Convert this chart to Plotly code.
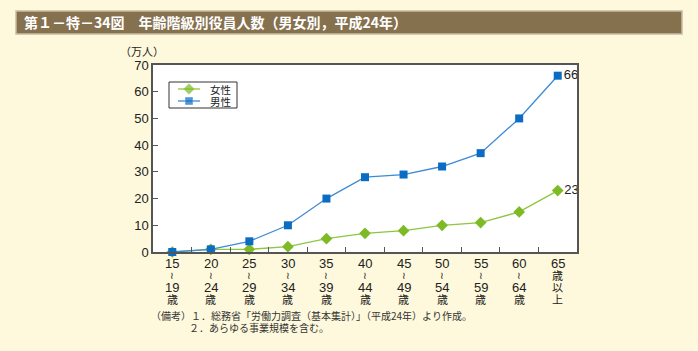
import plotly.graph_objects as go

age_start = ["15", "20", "25", "30", "35", "40", "45", "50", "55", "60", "65"]
age_end = ["19", "24", "29", "34", "39", "44", "49", "54", "59", "64", None]
female = [0, 1, 1, 2, 5, 7, 8, 10, 11, 15, 23]
male = [0, 1, 4, 10, 20, 28, 29, 32, 37, 50, 66]
series_names = ["女性", "男性"]

cats = [f"{s}～{e}歳" if e else f"{s}歳以上" for s, e in zip(age_start, age_end)]

W, H = 698, 351
L, R, T, B = 153, 577, 65, 252
ml, mr, mt, mb = L, W - R, T, H - B
pw, ph = R - L, B - T

def px(x):
    return (x - L) / pw

def py(y):
    return (B - y) / ph

BG = "#FEF9DC"
GREEN_L, GREEN_M = "#8DC63F", "#7DBA26"
BLUE_L, BLUE_M = "#3D8AD6", "#0A6CC2"
NUMFONT = "Liberation Sans, Arial"
JPFONT = "Noto Sans CJK JP"

fig = go.Figure()

def last_labels(vals):
    return [""] * (len(vals) - 1) + [str(vals[-1])]

fig.add_trace(go.Scatter(
    x=cats, y=female, name=series_names[0], mode="lines+markers+text",
    line=dict(color=GREEN_L, width=1.3),
    marker=dict(symbol="diamond", size=9, color=GREEN_M),
    text=last_labels(female), textposition="middle right",
    textfont=dict(size=13, color="#222222", family=NUMFONT),
    cliponaxis=False, showlegend=False,
))
fig.add_trace(go.Scatter(
    x=cats, y=male, name=series_names[1], mode="lines+markers+text",
    line=dict(color=BLUE_L, width=1.3),
    marker=dict(symbol="square", size=8, color=BLUE_M),
    text=last_labels(male), textposition="middle right",
    textfont=dict(size=13, color="#222222", family=NUMFONT),
    cliponaxis=False, showlegend=False,
))

# manual compact legend (pixel-mapped overlay axis)
leg_y = [89, 101]
leg_styles = [("diamond", 8, GREEN_L, GREEN_M), ("square", 7, BLUE_L, BLUE_M)]
for (sym, sz, lc, mc), yy in zip(leg_styles, leg_y):
    fig.add_trace(go.Scatter(
        x=[178, 189, 200], y=[yy, yy, yy], mode="lines+markers",
        line=dict(color=lc, width=1.3),
        marker=dict(symbol=sym, size=[0, sz, 0], color=mc),
        xaxis="x2", yaxis="y2", showlegend=False, hoverinfo="skip",
    ))

annotations = [
    dict(text="<b>第１－特－34図　年齢階級別役員人数（男女別，平成24年）</b>",
         xref="paper", yref="paper", x=px(22), y=py(22.5),
         xanchor="left", yanchor="middle", showarrow=False,
         font=dict(size=14, color="#FFFFFF", family=JPFONT)),
    dict(text="（万人）", xref="paper", yref="paper", x=px(142), y=py(51),
         xanchor="center", yanchor="middle", showarrow=False,
         font=dict(size=11, color="#222222", family=JPFONT)),
    dict(text="（備考）１．総務省「労働力調査（基本集計）」（平成24年）より作成。",
         xref="paper", yref="paper", x=px(149), y=py(315),
         xanchor="left", yanchor="middle", showarrow=False,
         font=dict(size=10, color="#333333", family=JPFONT)),
    dict(text="２．あらゆる事業規模を含む。",
         xref="paper", yref="paper", x=px(187), y=py(327),
         xanchor="left", yanchor="middle", showarrow=False,
         font=dict(size=10, color="#333333", family=JPFONT)),
]
for name, yy in zip(series_names, leg_y):
    annotations.append(dict(text=name, xref="paper", yref="paper", x=px(208), y=py(yy),
                            xanchor="left", yanchor="middle", showarrow=False,
                            font=dict(size=10.5, color="#222222", family=JPFONT)))

# stacked category labels
line_y = [263, 275, 287, 299]
for c, s, e in zip(cats, age_start, age_end):
    if e:
        parts = [(s, 13, NUMFONT), ("≀", 10, "DejaVu Sans"), (e, 13, NUMFONT), ("歳", 11, JPFONT)]
    else:
        parts = [(s, 13, NUMFONT), ("歳", 11, JPFONT), ("以", 11, JPFONT), ("上", 11, JPFONT)]
    for (t, sz, fam), yy in zip(parts, line_y):
        annotations.append(dict(text=t, xref="x", yref="paper", x=c, y=py(yy),
                                xanchor="center", yanchor="middle", showarrow=False,
                                font=dict(size=sz, color="#222222", family=fam)))

fig.update_layout(
    width=W, height=H,
    margin=dict(l=ml, r=mr, t=mt, b=mb, pad=0),
    paper_bgcolor=BG, plot_bgcolor="#FFFFFF",
    font=dict(family="Liberation Sans, Arial, Noto Sans CJK JP", color="#222222"),
    showlegend=False,
    xaxis=dict(
        type="category", showline=True, linecolor="#555555", linewidth=1.5,
        mirror=True, ticks="inside", ticklen=5, tickcolor="#555555",
        tickson="boundaries", showgrid=False, showticklabels=False,
        range=[-0.5, len(cats) - 0.5],
    ),
    yaxis=dict(
        range=[0, 70], dtick=10, showline=True, linecolor="#555555", linewidth=1.5,
        mirror=True, ticks="inside", ticklen=5, tickcolor="#555555",
        showgrid=False, zeroline=False,
        tickfont=dict(size=13, family=NUMFONT, color="#222222"),
    ),
    xaxis2=dict(overlaying="x", range=[L, R], visible=False, fixedrange=True),
    yaxis2=dict(overlaying="y", range=[B, T], visible=False, fixedrange=True),
    shapes=[
        dict(type="rect", xref="paper", yref="paper",
             x0=px(16), x1=px(682), y0=py(34), y1=py(11),
             fillcolor="#86714F", line=dict(color="#C8BBA4", width=1.5), layer="above"),
        dict(type="rect", xref="paper", yref="paper",
             x0=px(169), x1=px(237), y0=py(108), y1=py(82),
             fillcolor="#FFFFFF", line=dict(color="#333333", width=1), layer="below"),
    ],
    annotations=annotations,
)

fig.write_html("out.html")
